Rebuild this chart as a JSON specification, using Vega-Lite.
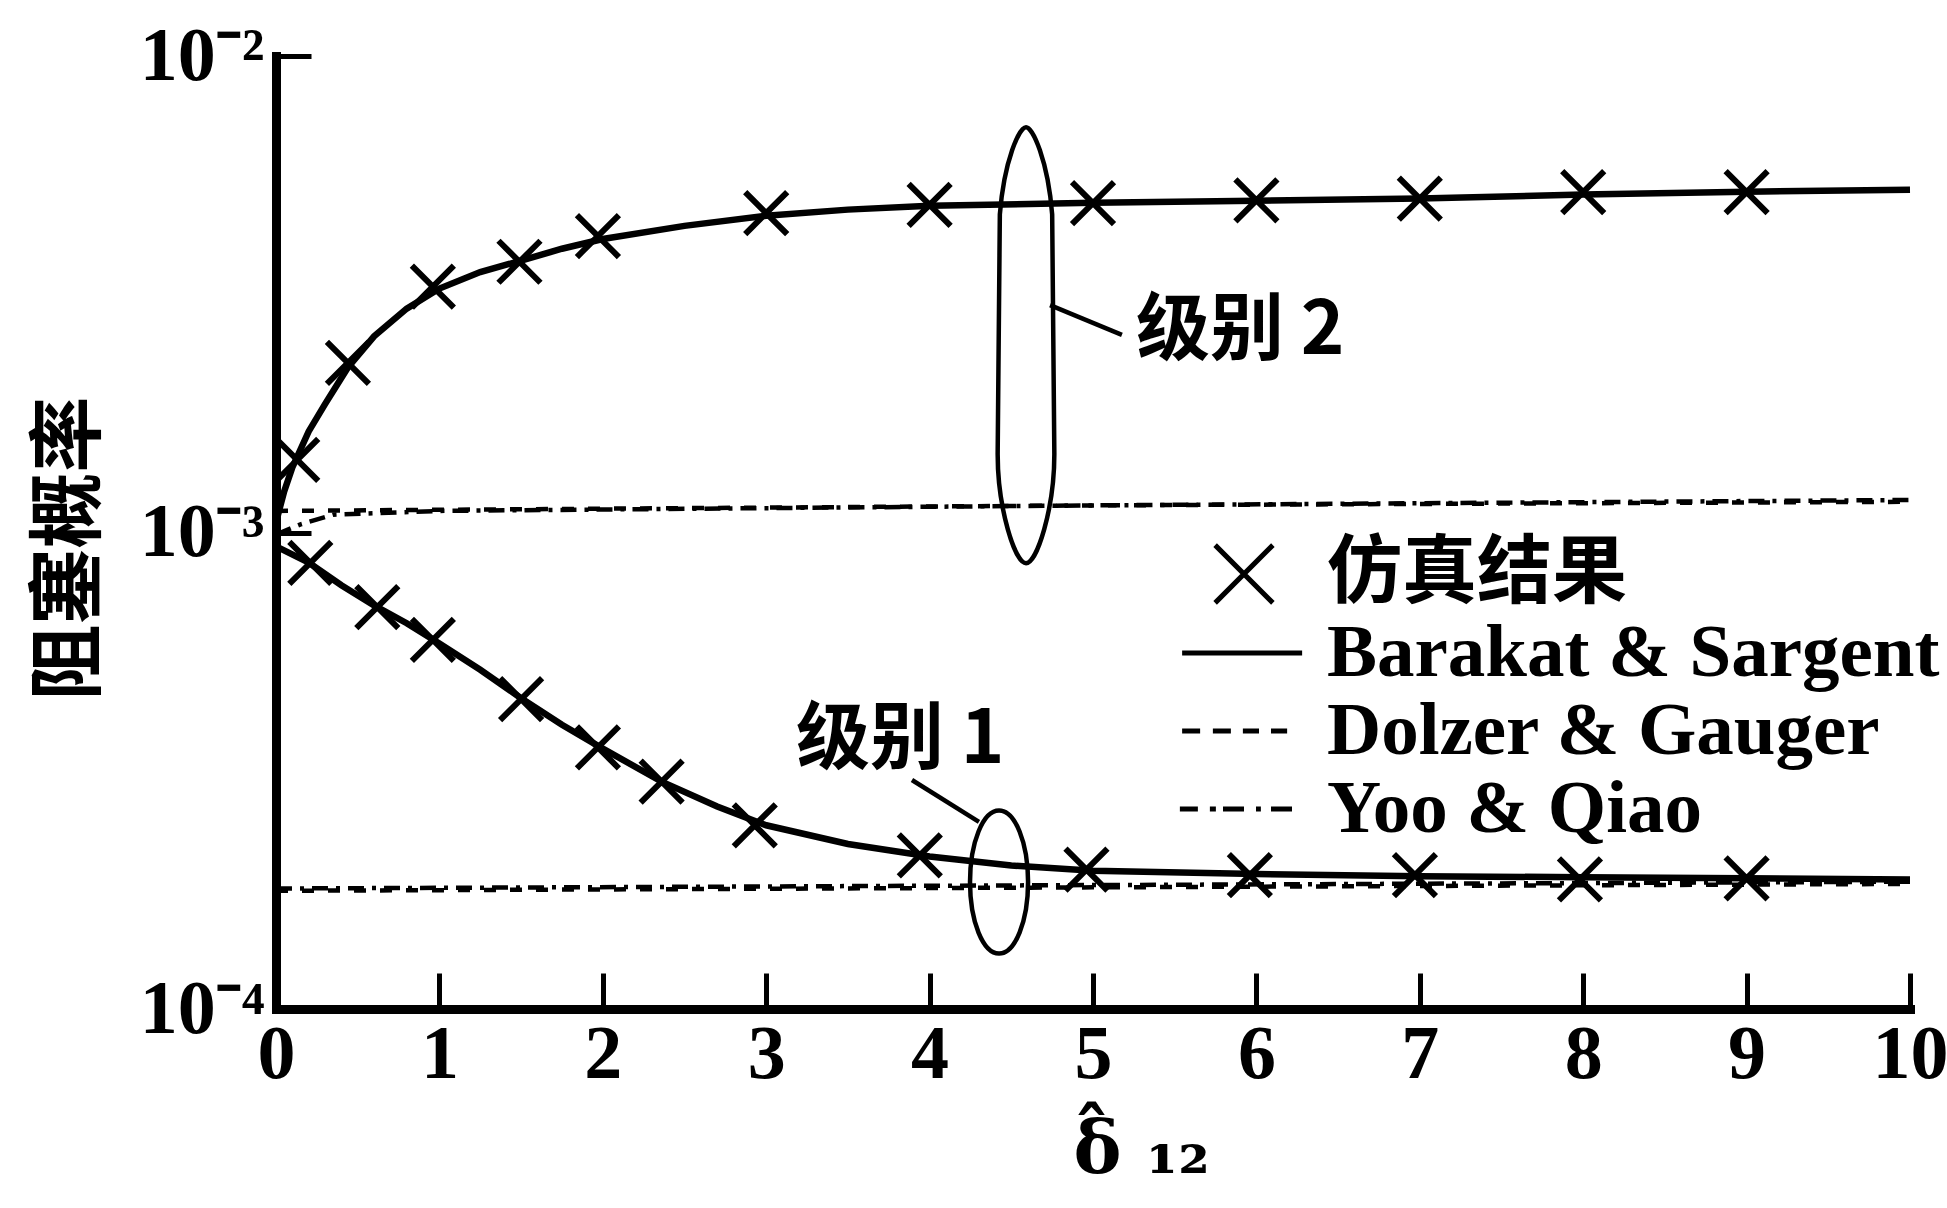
{
  "$schema": "https://vega.github.io/schema/vega-lite/v6.json",
  "width": 1634,
  "height": 953,
  "autosize": "none",
  "padding": {"left": 276, "top": 56, "right": 37, "bottom": 199},
  "background": "white",
  "config": {"view": {"stroke": null}},
  "datasets": {
    "curves": [
      {"model": "Barakat & Sargent", "level": 2, "x": 0, "y": 0.00105},
      {"model": "Barakat & Sargent", "level": 2, "x": 0.05, "y": 0.00122},
      {"model": "Barakat & Sargent", "level": 2, "x": 0.1, "y": 0.00137},
      {"model": "Barakat & Sargent", "level": 2, "x": 0.2, "y": 0.00163},
      {"model": "Barakat & Sargent", "level": 2, "x": 0.3, "y": 0.00186},
      {"model": "Barakat & Sargent", "level": 2, "x": 0.44, "y": 0.00222},
      {"model": "Barakat & Sargent", "level": 2, "x": 0.6, "y": 0.00258},
      {"model": "Barakat & Sargent", "level": 2, "x": 0.8, "y": 0.00295},
      {"model": "Barakat & Sargent", "level": 2, "x": 1, "y": 0.00325},
      {"model": "Barakat & Sargent", "level": 2, "x": 1.25, "y": 0.00352},
      {"model": "Barakat & Sargent", "level": 2, "x": 1.5, "y": 0.00372},
      {"model": "Barakat & Sargent", "level": 2, "x": 1.75, "y": 0.00394},
      {"model": "Barakat & Sargent", "level": 2, "x": 2, "y": 0.00413},
      {"model": "Barakat & Sargent", "level": 2, "x": 2.5, "y": 0.0044},
      {"model": "Barakat & Sargent", "level": 2, "x": 3, "y": 0.00462},
      {"model": "Barakat & Sargent", "level": 2, "x": 3.5, "y": 0.00476},
      {"model": "Barakat & Sargent", "level": 2, "x": 4, "y": 0.00485},
      {"model": "Barakat & Sargent", "level": 2, "x": 5, "y": 0.00492},
      {"model": "Barakat & Sargent", "level": 2, "x": 6, "y": 0.00497},
      {"model": "Barakat & Sargent", "level": 2, "x": 7, "y": 0.00502},
      {"model": "Barakat & Sargent", "level": 2, "x": 8, "y": 0.00512},
      {"model": "Barakat & Sargent", "level": 2, "x": 9, "y": 0.00519},
      {"model": "Barakat & Sargent", "level": 2, "x": 10, "y": 0.00524},
      {"model": "Barakat & Sargent", "level": 1, "x": 0, "y": 0.000935},
      {"model": "Barakat & Sargent", "level": 1, "x": 0.2, "y": 0.000865},
      {"model": "Barakat & Sargent", "level": 1, "x": 0.4, "y": 0.000775},
      {"model": "Barakat & Sargent", "level": 1, "x": 0.6, "y": 0.000703},
      {"model": "Barakat & Sargent", "level": 1, "x": 0.8, "y": 0.000645},
      {"model": "Barakat & Sargent", "level": 1, "x": 1, "y": 0.000585},
      {"model": "Barakat & Sargent", "level": 1, "x": 1.25, "y": 0.000515},
      {"model": "Barakat & Sargent", "level": 1, "x": 1.5, "y": 0.000449},
      {"model": "Barakat & Sargent", "level": 1, "x": 1.75, "y": 0.000395},
      {"model": "Barakat & Sargent", "level": 1, "x": 2, "y": 0.000352},
      {"model": "Barakat & Sargent", "level": 1, "x": 2.36, "y": 0.0003},
      {"model": "Barakat & Sargent", "level": 1, "x": 2.7, "y": 0.000266},
      {"model": "Barakat & Sargent", "level": 1, "x": 3, "y": 0.000243},
      {"model": "Barakat & Sargent", "level": 1, "x": 3.5, "y": 0.000222},
      {"model": "Barakat & Sargent", "level": 1, "x": 4, "y": 0.000209},
      {"model": "Barakat & Sargent", "level": 1, "x": 4.5, "y": 0.0002},
      {"model": "Barakat & Sargent", "level": 1, "x": 5, "y": 0.000195},
      {"model": "Barakat & Sargent", "level": 1, "x": 6, "y": 0.000192},
      {"model": "Barakat & Sargent", "level": 1, "x": 7, "y": 0.00019},
      {"model": "Barakat & Sargent", "level": 1, "x": 8, "y": 0.000189},
      {"model": "Barakat & Sargent", "level": 1, "x": 9, "y": 0.000188},
      {"model": "Barakat & Sargent", "level": 1, "x": 10, "y": 0.000187},
      {"model": "Dolzer & Gauger", "level": 2, "x": 0, "y": 0.00111},
      {"model": "Dolzer & Gauger", "level": 2, "x": 5, "y": 0.00114},
      {"model": "Dolzer & Gauger", "level": 2, "x": 10, "y": 0.00116},
      {"model": "Yoo & Qiao", "level": 2, "x": 0, "y": 0.00099},
      {"model": "Yoo & Qiao", "level": 2, "x": 0.15, "y": 0.00104},
      {"model": "Yoo & Qiao", "level": 2, "x": 0.35, "y": 0.00109},
      {"model": "Yoo & Qiao", "level": 2, "x": 1, "y": 0.00111},
      {"model": "Yoo & Qiao", "level": 2, "x": 5, "y": 0.00114},
      {"model": "Yoo & Qiao", "level": 2, "x": 10, "y": 0.00117},
      {"model": "Dolzer & Gauger", "level": 1, "x": 0, "y": 0.000177},
      {"model": "Dolzer & Gauger", "level": 1, "x": 5, "y": 0.00018},
      {"model": "Dolzer & Gauger", "level": 1, "x": 10, "y": 0.000183},
      {"model": "Yoo & Qiao", "level": 1, "x": 0, "y": 0.000179},
      {"model": "Yoo & Qiao", "level": 1, "x": 5, "y": 0.000182},
      {"model": "Yoo & Qiao", "level": 1, "x": 10, "y": 0.000185}
    ],
    "sim": [
      {"series": "仿真结果", "level": 2, "x": 0.13, "y": 0.00142},
      {"series": "仿真结果", "level": 2, "x": 0.44, "y": 0.00227},
      {"series": "仿真结果", "level": 2, "x": 0.96, "y": 0.00328},
      {"series": "仿真结果", "level": 2, "x": 1.49, "y": 0.0037},
      {"series": "仿真结果", "level": 2, "x": 1.97, "y": 0.00419},
      {"series": "仿真结果", "level": 2, "x": 3, "y": 0.00468},
      {"series": "仿真结果", "level": 2, "x": 4, "y": 0.00487},
      {"series": "仿真结果", "level": 2, "x": 5, "y": 0.00491},
      {"series": "仿真结果", "level": 2, "x": 6, "y": 0.00498},
      {"series": "仿真结果", "level": 2, "x": 7, "y": 0.00502},
      {"series": "仿真结果", "level": 2, "x": 8, "y": 0.00518},
      {"series": "仿真结果", "level": 2, "x": 9, "y": 0.00518},
      {"series": "仿真结果", "level": 1, "x": 0.21, "y": 0.000863},
      {"series": "仿真结果", "level": 1, "x": 0.62, "y": 0.000697},
      {"series": "仿真结果", "level": 1, "x": 0.96, "y": 0.000595},
      {"series": "仿真结果", "level": 1, "x": 1.5, "y": 0.000447},
      {"series": "仿真结果", "level": 1, "x": 1.97, "y": 0.000354},
      {"series": "仿真结果", "level": 1, "x": 2.36, "y": 0.0003},
      {"series": "仿真结果", "level": 1, "x": 2.93, "y": 0.000243},
      {"series": "仿真结果", "level": 1, "x": 3.94, "y": 0.00021},
      {"series": "仿真结果", "level": 1, "x": 4.96, "y": 0.000196},
      {"series": "仿真结果", "level": 1, "x": 5.96, "y": 0.000191},
      {"series": "仿真结果", "level": 1, "x": 6.97, "y": 0.000191},
      {"series": "仿真结果", "level": 1, "x": 7.98, "y": 0.000187},
      {"series": "仿真结果", "level": 1, "x": 9, "y": 0.000188}
    ],
    "leaders": [
      {"g": "a", "x": 4.737, "y": 0.0030},
      {"g": "a", "x": 5.177, "y": 0.002598},
      {"g": "b", "x": 3.892, "y": 0.0003024},
      {"g": "b", "x": 4.302, "y": 0.0002469}
    ],
    "labels": [
      {"x": 5.263, "y": 0.002635, "label": "级别 2"},
      {"x": 3.182, "y": 0.000365, "label": "级别 1"}
    ]
  },
  "encoding": {
    "x": {
      "field": "x", "type": "quantitative",
      "scale": {"domain": [0, 10], "nice": false, "zero": false},
      "axis": {
        "values": [0, 1, 2, 3, 4, 5, 6, 7, 8, 9, 10],
        "grid": false,
        "domainColor": "black", "domainWidth": 9, "domainCap": "square",
        "tickColor": "black", "tickWidth": 5, "tickSize": -36,
        "labelFont": "Liberation Serif", "labelFontSize": 76, "labelFontWeight": "bold",
        "labelColor": "black", "labelPadding": 44, "labelFlush": false, "labelOverlap": false,
        "title": ["ˆ", "δ ₁₂"],
        "titleFont": "DejaVu Serif", "titleFontSize": 72, "titleFontWeight": "bold",
        "titleLineHeight": 14,
        "titleColor": "black", "titleAlign": "left", "titleBaseline": "alphabetic",
        "titleX": 797, "titleY": 150
      }
    },
    "y": {
      "field": "y", "type": "quantitative",
      "scale": {"type": "log", "domain": [0.0001, 0.01], "nice": false},
      "axis": {
        "values": [0.0001, 0.001, 0.01],
        "labelExpr": "datum.value < 0.0005 ? '10⁻⁴' : (datum.value < 0.005 ? '10⁻³' : '10⁻²')",
        "grid": false,
        "domainColor": "black", "domainWidth": 9, "domainCap": "square",
        "tickColor": "black", "tickWidth": 5, "tickSize": -35,
        "labelFont": "Liberation Serif", "labelFontSize": 76, "labelFontWeight": "bold",
        "labelColor": "black", "labelPadding": 47, "labelFlush": false, "labelOverlap": false,
        "title": "阻塞概率",
        "titleFont": "Noto Sans CJK SC", "titleFontSize": 76, "titleFontWeight": "bold",
        "titleColor": "black", "titleAngle": -90, "titleAlign": "center", "titleBaseline": "middle",
        "titleX": -206, "titleY": 492
      }
    }
  },
  "layer": [
    {
      "data": {"name": "curves"},
      "transform": [{"filter": "datum.model == 'Barakat & Sargent'"}],
      "mark": {"type": "line", "stroke": "black", "strokeWidth": 6.5},
      "encoding": {"detail": {"field": "level", "type": "nominal"}}
    },
    {
      "data": {"name": "curves"},
      "transform": [{"filter": "datum.model == 'Dolzer & Gauger'"}],
      "mark": {"type": "line", "stroke": "black", "strokeWidth": 4.5, "strokeDash": [12, 14]},
      "encoding": {"detail": {"field": "level", "type": "nominal"}}
    },
    {
      "data": {"name": "curves"},
      "transform": [{"filter": "datum.model == 'Yoo & Qiao'"}],
      "mark": {"type": "line", "stroke": "black", "strokeWidth": 4.5, "strokeDash": [16, 8, 4, 8]},
      "encoding": {"detail": {"field": "level", "type": "nominal"}}
    },
    {
      "data": {"name": "sim"},
      "mark": {"type": "point", "filled": false, "stroke": "black", "strokeWidth": 6, "size": 2975, "opacity": 1},
      "encoding": {
        "shape": {
          "field": "series", "type": "nominal",
          "scale": {
            "domain": ["仿真结果", "Barakat & Sargent", "Dolzer & Gauger", "Yoo & Qiao"],
            "range": [
              "M-0.77,-0.77L0.77,0.77M-0.77,0.77L0.77,-0.77",
              "M-1.65,0L1.55,0",
              "M-1.65,0L-1.17,0M-0.83,0L-0.35,0M-0.03,0L0.4,0M0.72,0L1.15,0",
              "M-1.71,0L-1.23,0M-0.91,0L-0.75,0M-0.56,0L0,0M0.32,0L0.45,0M0.72,0L1.28,0"
            ]
          },
          "legend": {
            "title": null, "orient": "none", "legendX": 928, "legendY": 478,
            "symbolSize": 5625, "symbolStrokeWidth": 5, "symbolStrokeColor": "black",
            "symbolFillColor": "transparent", "symbolOpacity": 1,
            "labelFont": "Liberation Serif, Noto Sans CJK SC", "labelFontSize": 75,
            "labelFontWeight": "bold", "labelColor": "black", "labelOffset": 43,
            "labelLimit": 1000, "rowPadding": 0, "padding": 0
          }
        }
      }
    },
    {
      "data": {"values": [{"x": 4.59, "y": 0.002473}]},
      "mark": {
        "type": "point", "filled": false, "stroke": "black", "strokeWidth": 4.5, "opacity": 1,
        "size": 190096,
        "shape": "M0,-1C0.03,-1,0.1,-0.85,0.12,-0.6L0.13,0.5C0.13,0.75,0.05,1,0,1C-0.05,1,-0.13,0.75,-0.13,0.5L-0.12,-0.6C-0.1,-0.85,-0.03,-1,0,-1Z"
      }
    },
    {
      "data": {"values": [{"x": 4.425, "y": 0.0001847}]},
      "mark": {
        "type": "point", "filled": false, "stroke": "black", "strokeWidth": 4.5, "opacity": 1,
        "size": 20449,
        "shape": "M0,-1C0.224,-1,0.406,-0.552,0.406,0C0.406,0.552,0.224,1,0,1C-0.224,1,-0.406,0.552,-0.406,0C-0.406,-0.552,-0.224,-1,0,-1Z"
      }
    },
    {
      "data": {"name": "leaders"},
      "mark": {"type": "line", "stroke": "black", "strokeWidth": 4.5},
      "encoding": {"detail": {"field": "g", "type": "nominal"}}
    },
    {
      "data": {"name": "labels"},
      "mark": {"type": "text", "align": "left", "baseline": "middle", "font": "Noto Sans CJK SC", "fontSize": 74, "fontWeight": "bold", "color": "black"},
      "encoding": {"text": {"field": "label", "type": "nominal"}}
    }
  ]
}
